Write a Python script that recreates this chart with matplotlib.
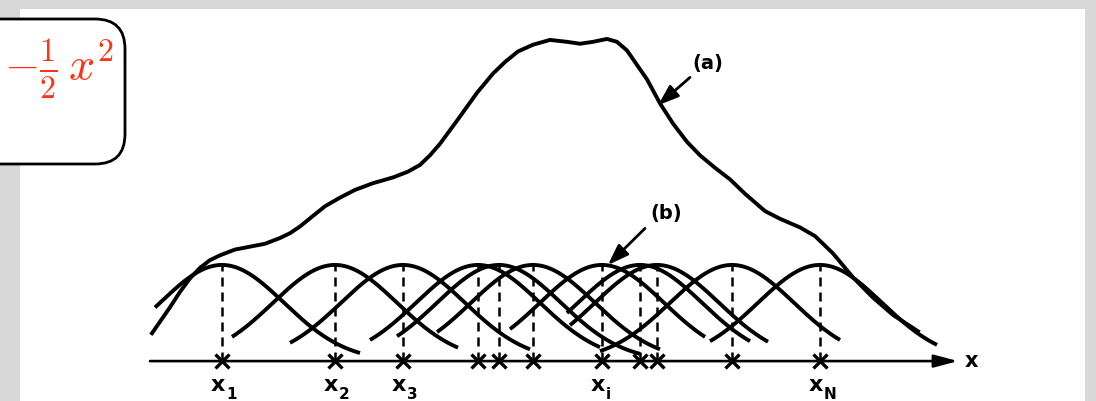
import numpy as np
import matplotlib.pyplot as plt
from matplotlib.patches import Rectangle, FancyBboxPatch

# sample positions along the axis and which ones get a label
centres = [7.2, 18.5, 25.3, 32.8, 34.9, 38.3, 45.2, 49.0, 50.7, 58.2, 67.0]
subscripts = ['1', '2', '3', '', '', '', 'i', '', '', '', 'N']
# where each kernel bump is cut off on the left and right
left_end = [0.5, 8.2, 14.0, 22.0, 24.7, 28.7, 36.0, 41.7, 42.0, 45.0, 56.0]
right_end = [21.0, 30.8, 38.0, 45.0, 49.0, 51.0, 55.5, 60.0, 61.8, 69.0, 78.7]
sigma = 6.2

# overall estimate, curve (a)
est_x = [0.2, 1.0, 2.0, 3.0, 4.0, 5.0, 6.0, 7.0, 8.5, 10.0, 11.5, 13.0, 14.0, 15.0,
         16.3, 17.5, 19.0, 20.5, 22.3, 24.3, 25.8, 27.0, 28.0, 29.0, 30.7, 32.7,
         34.3, 35.5, 36.8, 38.3, 40.0, 41.7, 43.0, 44.3, 45.7, 46.7, 47.7, 48.7,
         49.7, 51.0, 52.3, 53.7, 55.0, 56.5, 58.0, 59.5, 60.5, 61.5, 63.0, 65.0,
         66.5, 68.3, 70.3, 72.3, 74.3, 76.8]
est_y = [0.29, 0.41, 0.56, 0.72, 0.86, 0.97, 1.05, 1.10, 1.16, 1.19, 1.22, 1.28,
         1.33, 1.40, 1.51, 1.61, 1.70, 1.78, 1.85, 1.91, 1.97, 2.04, 2.14, 2.26,
         2.50, 2.79, 2.99, 3.11, 3.22, 3.29, 3.34, 3.32, 3.30, 3.32, 3.35, 3.32,
         3.23, 3.08, 2.93, 2.68, 2.47, 2.28, 2.14, 2.01, 1.89, 1.74, 1.65, 1.56,
         1.48, 1.39, 1.30, 1.12, 0.87, 0.66, 0.48, 0.31]

W, H = 1096, 401
fig = plt.figure(figsize=(W / 100, H / 100), dpi=100)
fig.patch.set_facecolor('#d8d8d8')

# page background and the rounded formula box, in pixel units
deco = fig.add_axes([0, 0, 1, 1])
deco.set_xlim(0, W)
deco.set_ylim(H, 0)
deco.axis('off')
deco.add_patch(Rectangle((20, 9), 1065, 400, facecolor='white', edgecolor='none'))
deco.add_patch(FancyBboxPatch((-120, 19), 245, 145,
                              boxstyle='round,pad=0,rounding_size=30',
                              facecolor='white', edgecolor='black', lw=2.0))
deco.text(113, 80, r'$-\frac{1}{2}\,x^2$', color='#ff3311', fontsize=33,
          ha='right', va='baseline', math_fontfamily='cm')

# the diagram itself
ax = fig.add_axes([100 / W, 0, 900 / W, 1])
ax.set_xlim(-5, 85)
ax.set_ylim(-0.415, 3.755)
ax.axis('off')
ax.patch.set_alpha(0)

lw = 2.8
for c, l, r in zip(centres, left_end, right_end):
    xs = np.linspace(l, r, 200)
    ax.plot(xs, np.exp(-(xs - c) ** 2 / (2 * sigma ** 2)), color='black', lw=lw,
            solid_capstyle='butt')
    ax.plot([c, c], [0, 1], color='black', lw=1.8, linestyle=(0, (3.6, 2.4)))

ax.plot(est_x, est_y, color='black', lw=lw, solid_joinstyle='round')

ax.annotate('', xy=(80.8, 0), xytext=(0, 0),
            arrowprops=dict(arrowstyle='-|>,head_length=0.6,head_width=0.16',
                            mutation_scale=24, lw=1.9, color='black',
                            shrinkA=0, shrinkB=0))
ax.plot(centres, np.zeros(len(centres)), linestyle='none', marker='x',
        markersize=10, mew=2.4, color='black')
ax.text(82.1, 0, 'x', fontsize=15, fontweight='bold', ha='center', va='center')

# sample labels: bold x with a dropped subscript
for c, sub in zip(centres, subscripts):
    if sub:
        ax.text(c - 0.4, -0.145, 'x', fontsize=16, fontweight='bold',
                ha='center', va='top')
        ax.text(c + 0.4, -0.27, sub, fontsize=11, fontweight='bold',
                ha='left', va='top')

ax.annotate('', xy=(50.8, 2.66), xytext=(54.0, 2.95),
            arrowprops=dict(arrowstyle='-|>,head_length=0.7,head_width=0.25',
                            mutation_scale=18, lw=2.0, color='black',
                            shrinkA=0, shrinkB=0))
ax.text(55.8, 3.09, '(a)', fontsize=14, fontweight='bold', ha='center', va='center')
ax.annotate('', xy=(45.8, 1.0), xytext=(49.5, 1.38),
            arrowprops=dict(arrowstyle='-|>,head_length=0.7,head_width=0.25',
                            mutation_scale=18, lw=2.0, color='black',
                            shrinkA=0, shrinkB=0))
ax.text(51.6, 1.54, '(b)', fontsize=14, fontweight='bold', ha='center', va='center')

fig.savefig('out.png', dpi=100, facecolor=fig.get_facecolor())
